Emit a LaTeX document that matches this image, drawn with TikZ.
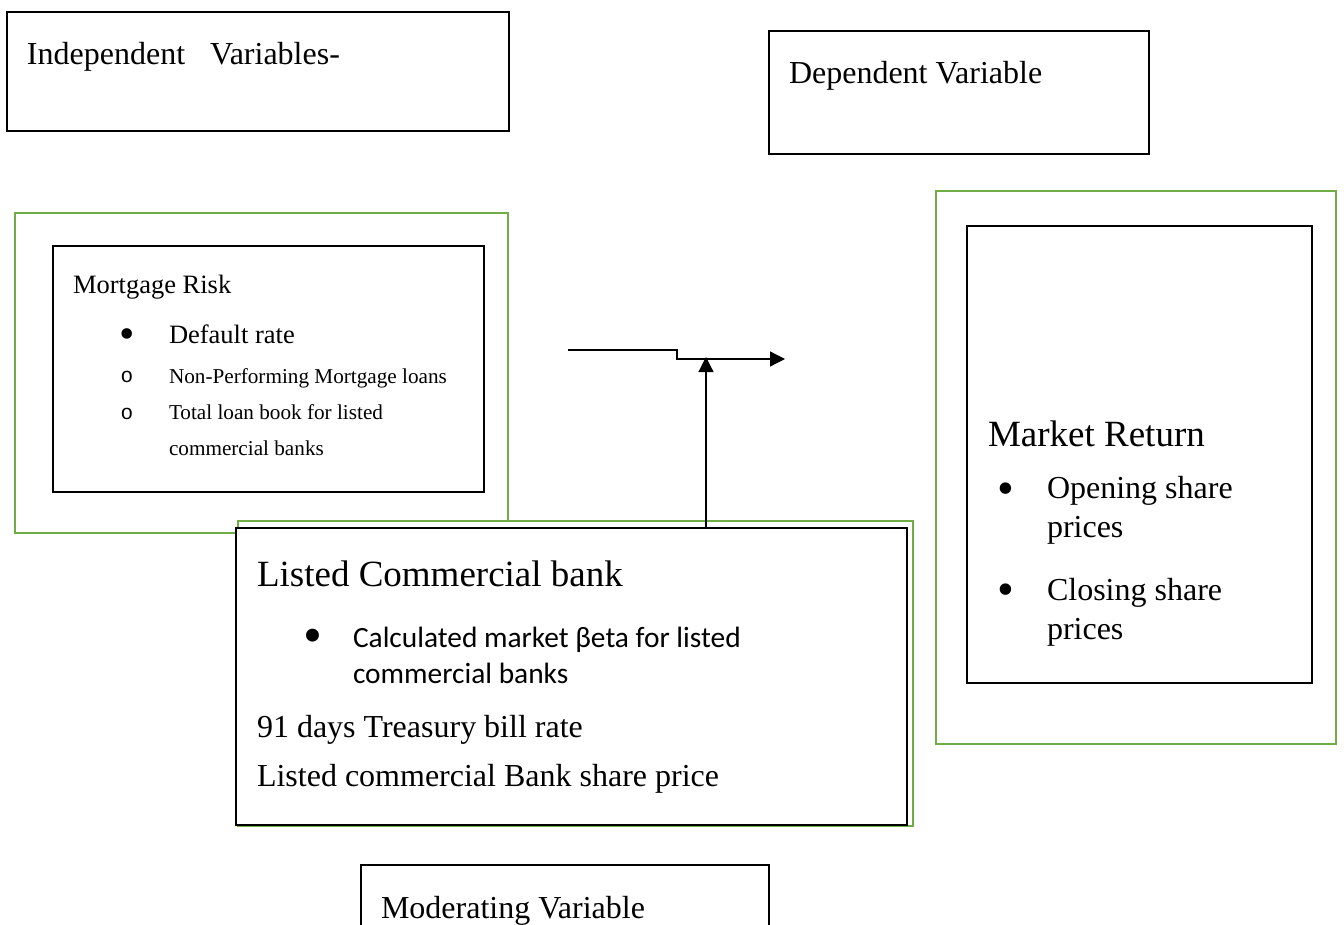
\documentclass[tikz,border=0pt]{standalone}
\usepackage{fontspec}
\setmainfont{Liberation Serif}
\setmonofont{Liberation Mono}
\newfontfamily\calib{Carlito}
\usetikzlibrary{arrows.meta}
\definecolor{grn}{HTML}{70AD47}
\newcommand\fsz[1]{\fontsize{#1}{#1}\selectfont}
\begin{document}
\begin{tikzpicture}[x=1pt,y=-1pt,
 blackbox/.style={draw=black, line width=1.4pt, fill=white, rectangle, inner sep=0pt, outer sep=0pt, anchor=north west},
 greenbox/.style={draw=grn, line width=2.8pt, fill=white, rectangle, inner sep=0pt, outer sep=0pt, anchor=north west},
 txt/.style={anchor=base west, inner sep=0pt, outer sep=0pt},
 conn/.style={draw=black, line width=1.2pt},
 arrowtip/.style={-{Triangle[length=15pt,width=15pt]}}]
\useasboundingbox (0,0) rectangle (1344,925);
\clip (0,0) rectangle (1344,925);

% header boxes
\node[blackbox, minimum width=502pt, minimum height=119pt] (indep) at (7,12) {};
\node[txt, font=\fsz{32}] (tindep) at (27,65) {Independent\hspace{25pt}Variables-};
\node[blackbox, minimum width=380pt, minimum height=123pt] (dep) at (769,31) {};
\node[txt, font=\fsz{32}] (tdep) at (789,84) {Dependent Variable};

% Mortgage risk
\node[greenbox, minimum width=493pt, minimum height=320pt] (mrg) at (15,213) {};
\node[blackbox, minimum width=431pt, minimum height=246pt] (mrb) at (53,246) {};
\node[txt, font=\fsz{26.5}] (t1) at (73,294) {Mortgage Risk};
\node[txt, font=\fsz{44}] (b1) at (119.3,348.6) {•};
\node[txt, font=\fsz{26.5}] (t2) at (169,343) {Default rate};
\node[txt, font=\ttfamily\fsz{21}] (b2) at (120.7,382) {o};
\node[txt, font=\fsz{21.2}] (t3) at (169,383) {Non-Performing Mortgage loans};
\node[txt, font=\ttfamily\fsz{21}] (b3) at (120.7,419.5) {o};
\node[txt, font=\fsz{21.2}] (t4) at (169,419) {Total loan book for listed};
\node[txt, font=\fsz{21.2}] (t5) at (169,455) {commercial banks};

% Market return
\node[greenbox, minimum width=400pt, minimum height=553pt] (mkg) at (936,191) {};
\node[blackbox, minimum width=345pt, minimum height=457pt] (mkb) at (967,226) {};
\node[txt, font=\fsz{37}] (m1) at (988,446) {Market Return};
\node[txt, font=\fsz{48}] (mb1) at (997.6,504.9) {•};
\node[txt, font=\fsz{32}] (m2) at (1047,498) {Opening share};
\node[txt, font=\fsz{32}] (m3) at (1047,537) {prices};
\node[txt, font=\fsz{48}] (mb2) at (997.6,605.9) {•};
\node[txt, font=\fsz{32}] (m4) at (1047,600) {Closing share};
\node[txt, font=\fsz{32}] (m5) at (1047,639) {prices};

% Listed commercial bank
\node[greenbox, minimum width=675pt, minimum height=305pt] (lcg) at (238,521) {};
\node[blackbox, minimum width=671pt, minimum height=297pt] (lcb) at (236,528) {};
\node[txt, font=\fsz{37}] (l1) at (257,586) {Listed Commercial bank};
\node[txt, font=\fsz{54}] (lb1) at (303.5,653.7) {•};
\node[txt, font=\calib\fsz{29.4}] (l2) at (353,647) {Calculated market βeta for listed};
\node[txt, font=\calib\fsz{29.4}] (l3) at (353,683) {commercial banks};
\node[txt, font=\fsz{32}] (l4) at (257,737) {91 days Treasury bill rate};
\node[txt, font=\fsz{32}] (l5) at (257,786) {Listed commercial Bank share price};

% Moderating variable
\node[blackbox, minimum width=408pt, minimum height=100pt] (mod) at (361,865) {};
\node[txt, font=\fsz{32}] (tmod) at (381,918) {Moderating Variable};

% connectors
\coordinate (a0) at (568,350);
\coordinate (a1) at (677,350);
\coordinate (a2) at (677,359);
\coordinate (a3) at (785,359);
\coordinate (vtop) at (706,357);
\draw[conn, arrowtip] (a0) -- (a1) -- (a2) -- (a3);
\draw[conn, arrowtip] (lcb.north -| vtop) -- (vtop);
\end{tikzpicture}
\end{document}
